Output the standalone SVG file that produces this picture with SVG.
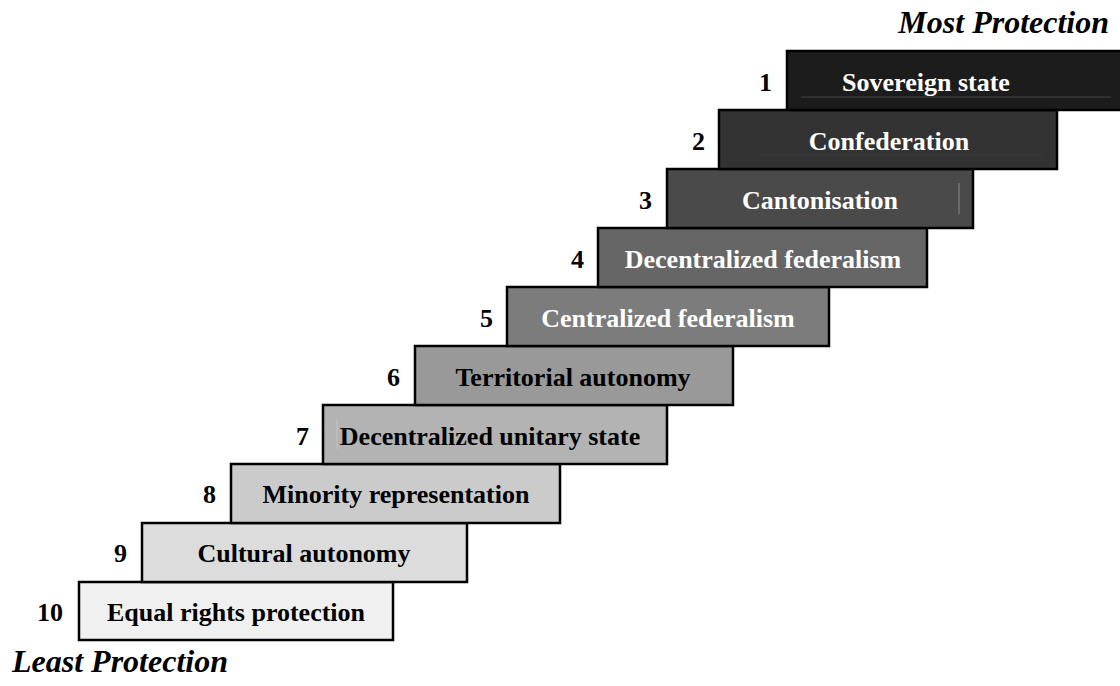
<svg xmlns="http://www.w3.org/2000/svg" width="1120" height="686" viewBox="0 0 1120 686">
  <style>
    .step { stroke: #000; stroke-width: 2.5; }
    .lbl { font-family: "Liberation Serif", "Times New Roman", serif; font-weight: bold; font-size: 26px; text-anchor: middle; }
    .num { font-family: "Liberation Serif", "Times New Roman", serif; font-weight: bold; font-size: 26px; text-anchor: end; fill: #000; }
    .axis { font-family: "Liberation Serif", "Times New Roman", serif; font-weight: bold; font-style: italic; font-size: 32px; fill: #000; }
    .light { fill: #fff; }
    .dark { fill: #000; }
  </style>
  <rect width="1120" height="686" fill="#fff"/>

  <text class="axis" x="1109" y="33" text-anchor="end">Most Protection</text>
  <text class="axis" x="12" y="672">Least Protection</text>

  <g id="step-10">
    <rect class="step" x="79" y="582" width="314" height="58" fill="#f0f0f0"/>
    <text class="num" x="63" y="621">10</text>
    <text class="lbl dark" x="236" y="621">Equal rights protection</text>
  </g>
  <g id="step-9">
    <rect class="step" x="142" y="523" width="325" height="59" fill="#dcdcdc"/>
    <text class="num" x="127" y="562">9</text>
    <text class="lbl dark" x="304" y="562">Cultural autonomy</text>
  </g>
  <g id="step-8">
    <rect class="step" x="231" y="464" width="329" height="59" fill="#cbcbcb"/>
    <text class="num" x="216" y="503">8</text>
    <text class="lbl dark" x="396" y="503">Minority representation</text>
  </g>
  <g id="step-7">
    <rect class="step" x="323" y="405" width="344" height="59" fill="#b3b3b3"/>
    <line x1="337" y1="420" x2="337" y2="449" stroke="#c4c4c4" stroke-width="1"/>
    <text class="num" x="309" y="445">7</text>
    <text class="lbl dark" x="490" y="445">Decentralized unitary state</text>
  </g>
  <g id="step-6">
    <rect class="step" x="415" y="346" width="318" height="59" fill="#999999"/>
    <text class="num" x="400" y="386">6</text>
    <text class="lbl dark" x="573" y="386">Territorial autonomy</text>
  </g>
  <g id="step-5">
    <rect class="step" x="507" y="287" width="322" height="59" fill="#7c7c7c"/>
    <text class="num" x="493" y="327">5</text>
    <text class="lbl light" x="668" y="327">Centralized federalism</text>
  </g>
  <g id="step-4">
    <rect class="step" x="598" y="228" width="329" height="59" fill="#666666"/>
    <text class="num" x="584" y="268">4</text>
    <text class="lbl light" x="763" y="268">Decentralized federalism</text>
  </g>
  <g id="step-3">
    <rect class="step" x="667" y="169" width="306" height="59" fill="#4a4a4a"/>
    <line x1="959" y1="183" x2="959" y2="214" stroke="#8a8a8a" stroke-width="1"/>
    <text class="num" x="652" y="209">3</text>
    <text class="lbl light" x="820" y="209">Cantonisation</text>
  </g>
  <g id="step-2">
    <rect class="step" x="719" y="110" width="338" height="59" fill="#333333"/>
    <line x1="760" y1="155" x2="1043" y2="155" stroke="#3c3c3c" stroke-width="1"/>
    <text class="num" x="705" y="150">2</text>
    <text class="lbl light" x="889" y="150">Confederation</text>
  </g>
  <g id="step-1">
    <rect class="step" x="787" y="51" width="340" height="59" fill="#1c1c1c"/>
    <line x1="801" y1="97" x2="1111" y2="97" stroke="#444" stroke-width="1"/>
    <text class="num" x="772" y="91">1</text>
    <text class="lbl light" x="926" y="91">Sovereign state</text>
  </g>
</svg>
